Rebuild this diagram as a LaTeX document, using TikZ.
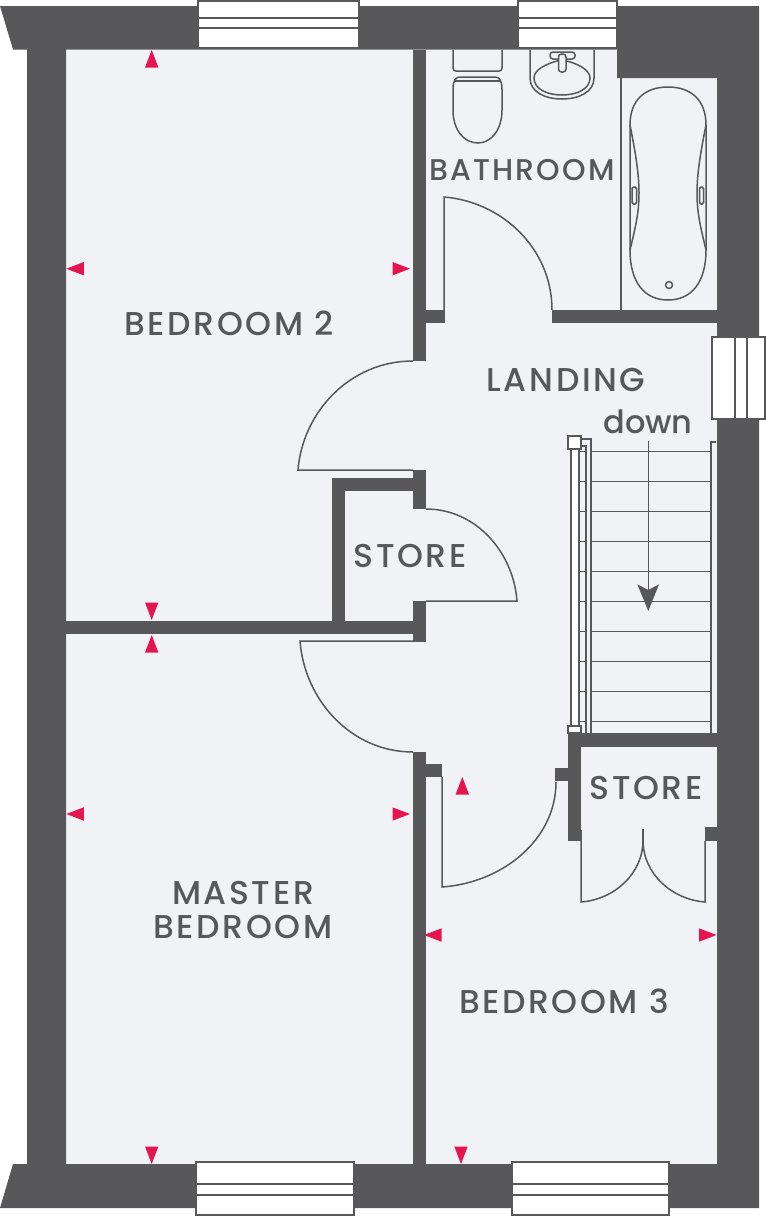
\documentclass[tikz,border=0pt]{standalone}
\usepackage{fontspec}
\setmainfont{Poppins}[UprightFont=* Medium]
\usetikzlibrary{calc}
\definecolor{wallgrey}{HTML}{58585A}
\definecolor{roomtint}{HTML}{F0F2F6}
\definecolor{markpink}{HTML}{E5154F}
\tikzset{
    wall/.style={fill=wallgrey},
    fitting/.style={draw=wallgrey, line width=1.5pt},
    glazing/.style={draw=wallgrey, line width=1.6pt, fill=white},
    roomlabel/.style={text=wallgrey, font=\fontsize{33}{34}\selectfont\addfontfeatures{LetterSpace=8}, align=center, inner sep=0pt},
    heightmark/.style={fill=markpink}
}
\newcommand{\doorswing}[4]{\draw[fitting] (#1) -- (#2) .. controls ($(#2)!0.53!(#3) + 0.04*(#4) - 0.04*(#3)$) and ($(#4)!0.55!(#3)$) .. (#4);}
\begin{document}
\begin{tikzpicture}[x=1pt, y=-1pt]
    \useasboundingbox (0,0) rectangle (766,1216);
    % floors
    \fill[roomtint] (66,49.5) rectangle (717,1164);
    % outer walls
    \fill[wall, even odd rule] (0,6) -- (759,6) -- (759,1208) -- (0,1208) -- (13,1164) -- (27,1164)
        -- (27,49.5) -- (13,49.5) -- cycle
        (66,49.5) -- (617,49.5) -- (617,78) -- (717,78) -- (717,1164) -- (66,1164) -- cycle;
    % inner walls
    \fill[wall] (413,49.5) rectangle (426,361);
    \fill[wall] (426,310) rectangle (445,323);
    \fill[wall] (552,310) rectangle (717,323);
    \fill[wall] (413,470) rectangle (426,509);
    \fill[wall] (332,478) rectangle (413,491);
    \fill[wall] (332,478) rectangle (345,621);
    \fill[wall] (66,621) rectangle (426,634);
    \fill[wall] (413,601) rectangle (426,642);
    \fill[wall] (413,752) rectangle (426,1164);
    \fill[wall] (426,764) rectangle (442,777);
    \fill[wall] (555,768) rectangle (568,781);
    \fill[wall] (568,733) rectangle (581,841);
    \fill[wall] (568,733) rectangle (717,747);
    \fill[wall] (705,827) rectangle (717,841);
    % windows
    \foreach \xa/\xb in {198/359, 518/617} {
        \draw[glazing] (\xa,1) rectangle (\xb,48);
        \draw[glazing] (\xa,18) -- (\xb,18);
        \draw[glazing] (\xa,28) -- (\xb,28);
    }
    \foreach \xa/\xb in {196/354, 512/669} {
        \draw[glazing] (\xa,1162) rectangle (\xb,1215);
        \draw[glazing] (\xa,1184) -- (\xb,1184);
        \draw[glazing] (\xa,1195) -- (\xb,1195);
    }
    % radiator
    \draw[glazing] (712,337) rectangle (765,419);
    \draw[glazing] (735,337) -- (735,419);
    \draw[glazing] (747,337) -- (747,419);
    % doors
    \doorswing{413,470}{298,470}{298,361}{413,361}
    \doorswing{426,601}{517,601}{517,509}{426,509}
    \doorswing{413,641}{300,641}{300,752}{413,752}
    \doorswing{444,310}{444,197}{552,197}{552,310}
    \doorswing{442,777}{442,887}{556,887}{556,782}
    \doorswing{581,830}{581,902}{643,902}{643,840}
    \doorswing{705,841}{705,902}{643,902}{643,840}
    \draw[fitting] (643,829) -- (643,840);
    % bathroom
    \draw[fitting] (621,78) -- (621,310);
    \draw[fitting] (453,49.5) -- (453,68) .. controls (453,70) and (454,71) .. (456,71) -- (499,71)
        .. controls (501,71) and (502,70) .. (502,68) -- (502,49.5);
    \draw[fitting] (453,89) .. controls (453,80) and (456,77) .. (460,77) -- (495,77)
        .. controls (499,77) and (502,80) .. (502,89) -- (502,110)
        .. controls (502,130) and (491,143) .. (478,143) .. controls (464,143) and (453,130) .. (453,110) -- cycle;
    \draw[fitting] (455,81) -- (500,81);
    \draw[fitting] (530,49.5) -- (530,78) .. controls (530,92) and (545,99) .. (562,99)
        .. controls (579,99) and (594,92) .. (594,78) -- (594,49.5);
    \draw[fitting] (534,78) .. controls (534,70) and (546,63) .. (562,60)
        .. controls (578,63) and (590,70) .. (590,78) .. controls (590,89) and (577,95) .. (562,95)
        .. controls (547,95) and (534,89) .. (534,78) -- cycle;
    \draw[fitting, fill=roomtint, rounded corners=3pt] (550,52) rectangle (575,59);
    \draw[fitting, fill=roomtint, rounded corners=3pt] (558.5,54) rectangle (566,72);
    \draw[fitting] (630,125) .. controls (630,100) and (645,87) .. (668,87)
        .. controls (691,87) and (706,100) .. (706,125) -- (706,250)
        .. controls (706,283) and (691,300) .. (668,300) .. controls (645,300) and (630,283) .. (630,250) -- cycle;
    \draw[fitting] (630,125) .. controls (636,155) and (639,175) .. (639,193) .. controls (639,212) and (636,225) .. (630,250);
    \draw[fitting] (706,125) .. controls (700,155) and (697,175) .. (697,193) .. controls (697,212) and (700,225) .. (706,250);
    \draw[fitting, rounded corners=1.5pt] (632,187) rectangle (636.5,204);
    \draw[fitting, rounded corners=1.5pt] (699.5,187) rectangle (703.5,204);
    \draw[fitting] (669,285) circle[radius=3.5pt];
    % stairs
    \foreach \k in {0,...,9} {
        \draw[fitting] (591,451.7+30*\k) -- (711,451.7+30*\k);
        \draw[fitting] (579,451.7+30*\k) -- (586,451.7+30*\k);
    }
    \draw[fitting, fill=white] (571,449) rectangle (579,726);
    \draw[fitting] (579,446) -- (586,446) -- (586,733);
    \draw[fitting] (581,439) -- (591,439) -- (591,733);
    \draw[fitting, fill=white] (568,436) rectangle (581,449);
    \draw[fitting, fill=white] (568,726) rectangle (581,733);
    \draw[fitting] (711,733) -- (711,442) -- (716,442);
    \draw[fitting] (648.3,441) -- (648.3,590);
    \fill[wall] (637.3,584.3) -- (648.3,590) -- (659,584.3) -- (648.3,611) -- cycle;
    % height marks
    \foreach \ax/\ay in {151.7/50, 151.7/635, 462.3/777} {
        \fill[heightmark] (\ax,\ay) -- (\ax+6.7,\ay+17.5) -- (\ax-6.7,\ay+17.5) -- cycle;
    }
    \foreach \ax/\ay in {151.7/620, 151.7/1164, 461/1164} {
        \fill[heightmark] (\ax,\ay) -- (\ax+6.7,\ay-17.5) -- (\ax-6.7,\ay-17.5) -- cycle;
    }
    \foreach \ax/\ay in {66.3/268.7, 66.3/814, 424/935} {
        \fill[heightmark] (\ax,\ay) -- (\ax+17.5,\ay-6.7) -- (\ax+17.5,\ay+6.7) -- cycle;
    }
    \foreach \ax/\ay in {410/268.7, 410/814, 716.5/935} {
        \fill[heightmark] (\ax,\ay) -- (\ax-17.5,\ay-6.7) -- (\ax-17.5,\ay+6.7) -- cycle;
    }
    % room names
    \node[roomlabel, font=\fontsize{30}{34}\selectfont\addfontfeatures{LetterSpace=7}] (bathroom) at (522,170) {BATHROOM};
    \node[roomlabel] (bedroomtwo) at (229,323) {BEDROOM 2};
    \node[roomlabel] (landing) at (566,380) {LANDING};
    \node[roomlabel, font=\fontsize{32}{34}\selectfont] (stairsdown) at (648,422) {down};
    \node[roomlabel] (storeupper) at (410,556) {STORE};
    \node[roomlabel] (storelower) at (646,788) {STORE};
    \node[roomlabel] (masterbedroom) at (243,910) {MASTER\\BEDROOM};
    \node[roomlabel] (bedroomthree) at (564,1001) {BEDROOM 3};
\end{tikzpicture}
\end{document}
